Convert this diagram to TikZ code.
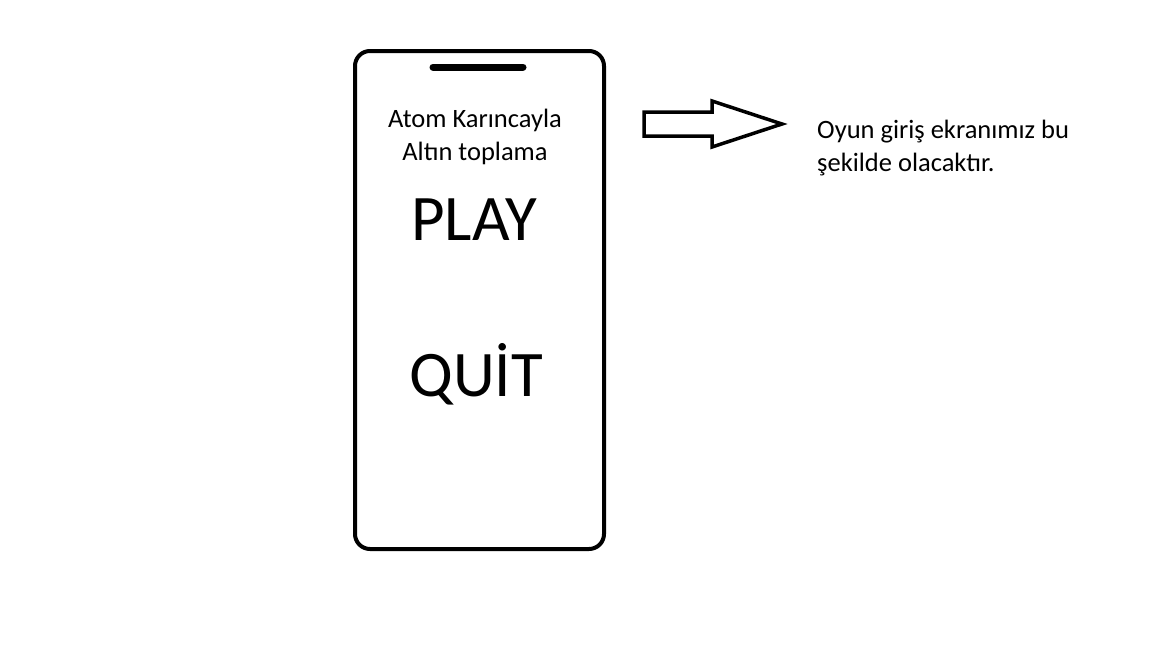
\documentclass[tikz,border=0pt]{standalone}
\usepackage{fontspec}
\setmainfont{Carlito}
\begin{document}
\begin{tikzpicture}[x=1pt,y=-1pt,
  outline/.style={draw=black,line width=4pt,line join=round},
  label/.style={inner sep=0pt,font=\fontsize{26.5}{33}\selectfont},
  big/.style={inner sep=0pt,font=\fontsize{65}{65}\selectfont}]
\useasboundingbox (0,0) rectangle (1152,648);
% phone
\draw[outline,rounded corners=15pt] (355,51) rectangle (604,549);
\draw[line width=7pt,line cap=round] (433,67) -- (523,67);
\node[label,align=center,anchor=base] (title) at (475,160) {Atom Karıncayla\\Altın toplama};
\node[big,anchor=base] (play) at (474,240) {PLAY};
\node[big,anchor=base] (quit) at (476,396) {QUİT};
% block arrow
\draw[line width=3.5pt,line join=miter] (644,112) -- (712,112) -- (712,101) -- (782,124) -- (712,147) -- (712,136) -- (644,136) -- cycle;
\node[label,align=left,anchor=base west] (note) at (817,171) {Oyun giriş ekranımız bu\\şekilde olacaktır.};
\end{tikzpicture}
\end{document}
